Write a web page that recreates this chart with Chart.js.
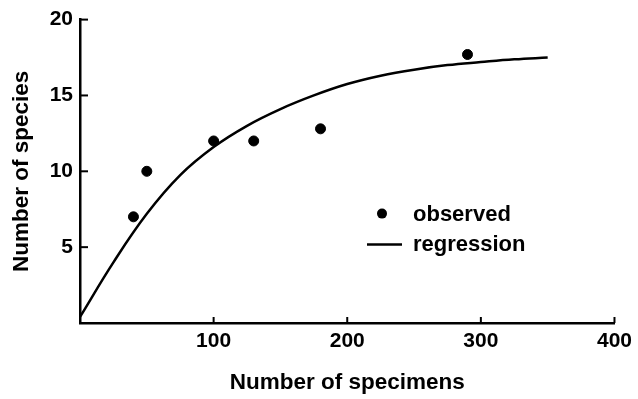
<!DOCTYPE html>
<html lang="en">
<head>
<meta charset="UTF-8">
<title>Species vs specimens</title>
<style>
    html, body { margin: 0; padding: 0; background: #fff; }
    canvas { display: block; }
</style>
<script src="https://cdn.jsdelivr.net/npm/chart.js"></script>
</head>
<body>
<canvas id="chart" width="638" height="399"></canvas>
<script>
// observed points
const observedSpecimens = [40, 50, 100, 130, 180, 290];
const observedSpecies = [7, 10, 12, 12, 12.8, 17.7];

// regression curve, every 25 specimens
const regressionSpecimens = [0, 25, 50, 75, 100, 125, 150, 175, 200, 225, 250, 275, 300, 325, 350];
const regressionSpecies = [0.4, 4.0, 7.2, 9.75, 11.6, 13.0, 14.1, 15.0, 15.75, 16.3, 16.7, 17.0, 17.2, 17.38, 17.5];

const xTicks = [100, 200, 300, 400];
const yTicks = [5, 10, 15, 20];

const legendLabels = ['observed', 'regression'];

Chart.defaults.font.family = '"Liberation Sans", Arial, Helvetica, sans-serif';
Chart.defaults.color = '#000';

// small ticks pointing into the plot
const inwardTicks = {
    id: 'inwardTicks',
    afterDatasetsDraw(chart) {
        const { ctx, scales: { x, y } } = chart;
        ctx.save();
        ctx.strokeStyle = '#000';
        ctx.lineWidth = 2;
        xTicks.forEach(v => {
            const px = x.getPixelForValue(v);
            ctx.beginPath();
            ctx.moveTo(px, x.top);
            ctx.lineTo(px, x.top - 6);
            ctx.stroke();
        });
        yTicks.forEach(v => {
            const py = y.getPixelForValue(v);
            ctx.beginPath();
            ctx.moveTo(y.right, py);
            ctx.lineTo(y.right + 8, py);
            ctx.stroke();
        });
        ctx.restore();
    }
};

// legend sits inside the plot, lower right
const innerLegend = {
    id: 'innerLegend',
    afterDraw(chart) {
        const { ctx, chartArea } = chart;
        const left = chartArea.left + 287;
        const top = chartArea.top + 200;
        ctx.save();
        ctx.fillStyle = '#000';
        ctx.strokeStyle = '#000';
        ctx.beginPath();
        ctx.arc(left + 15, top - 6, 5, 0, Math.PI * 2);
        ctx.fill();
        ctx.lineWidth = 2.5;
        ctx.beginPath();
        ctx.moveTo(left, top + 25);
        ctx.lineTo(left + 35, top + 25);
        ctx.stroke();
        ctx.font = 'bold 22px "Liberation Sans", Arial, sans-serif';
        ctx.textBaseline = 'alphabetic';
        ctx.fillText(legendLabels[0], left + 46, top + 1);
        ctx.fillText(legendLabels[1], left + 46, top + 31);
        ctx.restore();
    }
};

new Chart(document.getElementById('chart'), {
    type: 'scatter',
    data: {
        datasets: [{
            label: legendLabels[0],
            data: observedSpecimens.map((v, i) => ({ x: v, y: observedSpecies[i] })),
            backgroundColor: '#000',
            borderColor: '#000',
            pointRadius: 5,
            pointHoverRadius: 5
        }, {
            label: legendLabels[1],
            data: regressionSpecimens.map((v, i) => ({ x: v, y: regressionSpecies[i] })),
            showLine: true,
            borderColor: '#000',
            borderWidth: 2.5,
            pointRadius: 0,
            tension: 0.4
        }]
    },
    options: {
        responsive: false,
        animation: false,
        layout: { padding: { top: 17, right: 21, left: 0, bottom: 0 } },
        plugins: {
            legend: { display: false },
            tooltip: { enabled: false }
        },
        scales: {
            x: {
                type: 'linear',
                min: 0,
                max: 400,
                afterBuildTicks: s => { s.ticks = xTicks.map(v => ({ value: v })); },
                afterFit: s => { s.height = 76; },
                grid: { display: false, drawTicks: false },
                border: { display: true, color: '#000', width: 2.5 },
                ticks: { padding: 6, font: { size: 21, weight: 'bold' }, color: '#000', maxRotation: 0 },
                title: { display: true, text: 'Number of specimens', font: { size: 22.5, weight: 'bold' }, color: '#000', padding: { top: 0, bottom: 3 } }
            },
            y: {
                type: 'linear',
                min: 0,
                max: 20,
                afterBuildTicks: s => { s.ticks = yTicks.map(v => ({ value: v })); },
                afterFit: s => { s.width = 80; },
                grid: { display: false, drawTicks: false },
                border: { display: true, color: '#000', width: 2.5 },
                ticks: { padding: 7, font: { size: 21, weight: 'bold' }, color: '#000' },
                title: { display: true, text: 'Number of species', font: { size: 22.5, weight: 'bold' }, color: '#000', padding: { top: 8, bottom: 0 } }
            }
        }
    },
    plugins: [inwardTicks, innerLegend]
});
</script>
</body>
</html>
